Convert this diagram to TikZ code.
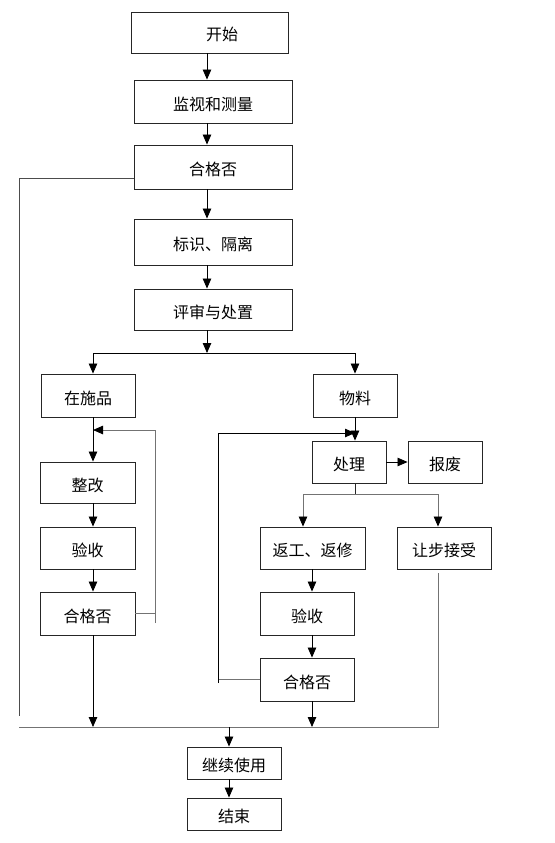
\documentclass[tikz,border=0pt]{standalone}
\usepackage{fontspec}
\setmainfont{Noto Sans CJK SC}
\usetikzlibrary{arrows.meta}

\begin{document}
\begin{tikzpicture}[x=1pt,y=-1pt,
  font=\fontsize{16}{19}\selectfont,
  box/.style={draw=black!85, line width=0.9pt, inner sep=0pt, text height=18pt, text depth=1pt},
  arr/.style={-{Triangle[width=8.5pt,length=10pt,black]}, line width=0.8pt},
  link/.style={line width=0.8pt, draw=black!85},
  grey/.style={line width=0.9pt, draw=black!55},
]
\useasboundingbox (0,0) rectangle (554,843);
% main column
\node[box, minimum width=157pt, minimum height=41pt] (start) at (209.5,32.5) {\hspace*{25pt}开始};
\node[box, minimum width=158pt, minimum height=43pt] (monitor) at (213,101.5) {监视和测量};
\node[box, minimum width=158pt, minimum height=44pt] (check1) at (213,167) {合格否};
\node[box, minimum width=158pt, minimum height=46pt] (mark) at (213,242) {标识、隔离};
\node[box, minimum width=158pt, minimum height=41pt] (review) at (213,309.5) {评审与处置};
% left branch
\node[box, minimum width=94pt, minimum height=43pt] (wip) at (88,395.5) {在施品};
\node[box, minimum width=95pt, minimum height=41pt] (fix) at (87.5,482.5) {整改};
\node[box, minimum width=95pt, minimum height=42pt] (accept1) at (87.5,548) {验收};
\node[box, minimum width=95pt, minimum height=43pt] (check2) at (87.5,613.5) {合格否};
% right branch
\node[box, minimum width=84pt, minimum height=43pt] (material) at (355,395.5) {物料};
\node[box, minimum width=74pt, minimum height=42pt] (handle) at (349,462) {处理};
\node[box, minimum width=74pt, minimum height=42pt] (scrap) at (445,462) {报废};
\node[box, minimum width=105pt, minimum height=42pt] (rework) at (312.5,548) {返工、返修};
\node[box, minimum width=94pt, minimum height=42pt] (concession) at (444,548) {让步接受};
\node[box, minimum width=94pt, minimum height=43pt] (accept2) at (307,613.5) {验收};
\node[box, minimum width=94pt, minimum height=43pt] (check3) at (307,679.5) {合格否};
% end
\node[box, minimum width=94pt, minimum height=32pt] (reuse) at (234,763) {继续使用};
\node[box, minimum width=94pt, minimum height=32pt] (finish) at (234,814) {结束};

\coordinate (spine) at (207,353);
\coordinate (lcol) at (93,0);
\coordinate (rcol) at (355,0);
\coordinate (rwx) at (303,494);
\coordinate (r2x) at (312,0);
\coordinate (ecx) at (229,0);
\coordinate (rejL) at (19,178);
\coordinate (rejEnd) at (19,716);
\coordinate (lloop) at (155,430);
\coordinate (lstub) at (155,623);
\coordinate (rloop) at (218,433);
\coordinate (rstub) at (218,683);
\coordinate (busL) at (19,727);
\coordinate (busR) at (438,727);

\draw[arr] (start.south -| spine) -- (monitor.north -| spine);
\draw[arr] (monitor.south -| spine) -- (check1.north -| spine);
\draw[arr] (check1.south -| spine) -- (mark.north -| spine);
\draw[arr] (mark.south -| spine) -- (review.north -| spine);
\draw[arr] (review.south -| spine) -- (spine);
\draw[arr] (spine) -| (wip.north -| lcol);
\draw[arr] (spine) -| (material.north -| rcol);

% in-process loop
\draw[arr] (wip.south -| lcol) -- (fix.north -| lcol);
\draw[arr] (fix.south -| lcol) -- (accept1.north -| lcol);
\draw[arr] (accept1.south -| lcol) -- (check2.north -| lcol);
\draw[grey] (check2.east) -- (check2.east -| lloop);
\draw[grey, arr] (lstub) -- (lloop) -- (lloop -| lcol);
\draw[arr] (check2.south -| lcol) -- (lcol |- busL);

% material loop
\draw[arr] (material.south -| rcol) -- (handle.north -| rcol);
\draw[arr] (handle.east) -- (scrap.west);
\draw[link] (handle.south -| rcol) -- (rcol |- rwx);
\draw[grey, arr] (rcol |- rwx) -| (rework.north -| rwx);
\draw[grey, arr] (rcol |- rwx) -| (concession.north -| busR);
\draw[arr] (rework.south -| r2x) -- (accept2.north -| r2x);
\draw[arr] (accept2.south -| r2x) -- (check3.north -| r2x);
\draw[grey] (check3.west) -- (check3.west -| rloop);
\draw[arr] (rstub) -- (rloop) -- (rloop -| rcol);
\draw[arr] (check3.south -| r2x) -- (r2x |- busL);

% qualified paths to the bus
\draw[link, draw=black!70] (check1.west |- rejL) -- (rejL) -- (rejEnd);
\draw[grey] (busL) -- (busR) -- ([yshift=-4pt]concession.south -| busR);
\draw[arr] (ecx |- busL) -- (reuse.north -| ecx);
\draw[arr] (reuse.south -| ecx) -- (finish.north -| ecx);
\end{tikzpicture}
\end{document}
